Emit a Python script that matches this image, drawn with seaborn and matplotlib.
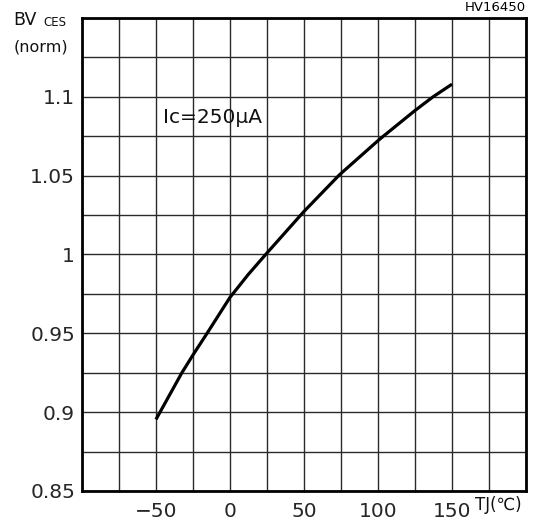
import numpy as np
import pandas as pd
import seaborn as sns
from matplotlib import pyplot as plt

# values (HV16450, BVces normalised vs Tj)
temp_c = [-50, -32.5, -25, -15.5, 0, 12.5, 24.1, 47.8, 50, 73.4, 75, 100, 103.6, 125, 137.2, 150]
bv_norm = [0.8954, 0.925, 0.9363, 0.95, 0.9728, 0.9875, 1.0, 1.025, 1.0273, 1.05, 1.0514,
           1.0722, 1.075, 1.0913, 1.1, 1.108]

x_ticks = [-50, 0, 50, 100, 150]
y_ticks = [0.85, 0.9, 0.95, 1.0, 1.05, 1.1]
y_labels = ["0.85", "0.9", "0.95", "1", "1.05", "1.1"]

df = pd.DataFrame({"Tj": temp_c, "BV": bv_norm})

sns.set_style("white")
plt.rcParams['font.family'] = ['DejaVu Sans', 'Noto Sans CJK SC']

fig = plt.figure(figsize=(5.43, 5.30), dpi=100)
ax = fig.add_axes([0.151, 0.0736, 0.8177, 0.8925])

sns.lineplot(x="Tj", y="BV", data=df, color="black", linewidth=2.3, ax=ax, zorder=3,
             solid_joinstyle="round", solid_capstyle="butt")

ax.set_xlim(-100, 200)
ax.set_ylim(0.85, 1.15)
ax.set_xticks(np.arange(-100, 201, 25), minor=True)
ax.set_yticks(np.arange(0.85, 1.151, 0.025), minor=True)
ax.set_xticks(x_ticks)
ax.set_yticks(y_ticks)
ax.set_yticklabels(y_labels, fontsize=14.5)
ax.set_xticklabels([str(v).replace("-", "\u2212") for v in x_ticks], fontsize=14.5)
ax.tick_params(axis="y", which="both", length=0, pad=5)
ax.tick_params(axis="x", which="both", length=0, pad=8)
ax.grid(which="both", color="#2a2a2a", linewidth=1.0)
ax.set_axisbelow(True)
for s in ax.spines.values():
    s.set_color("black")
    s.set_linewidth(2)
ax.set_xlabel("")
ax.set_ylabel("")

ax.text(-45.5, 1.087, "Ic=250\u03bcA", fontsize=14.5, va="center", ha="left", color="#111111")

fig.text(0.024, 0.946, "BV", fontsize=12.5, color="#111111", va="bottom")
fig.text(0.079, 0.946, "CES", fontsize=8.5, color="#111111", va="bottom")
fig.text(0.026, 0.898, "(norm)", fontsize=11.5, color="#111111", va="bottom")
fig.text(0.874, 0.030, "TJ(\u2103)", fontsize=12, color="#111111", va="bottom")
fig.text(0.968, 0.985, "HV16450", fontsize=9.5, ha="right", va="center", color="black")

plt.savefig("out.png", dpi=100)
